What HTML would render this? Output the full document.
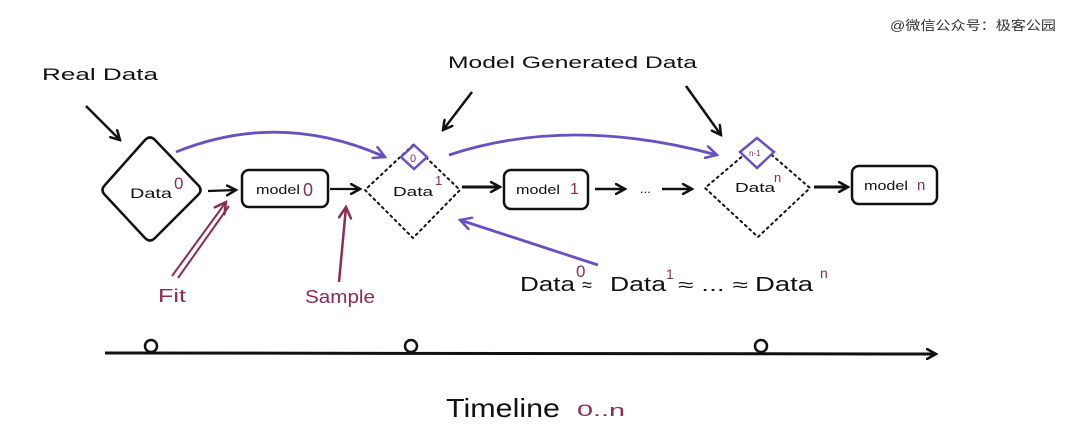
<!DOCTYPE html>
<html><head><meta charset="utf-8"><style>
html,body{margin:0;padding:0;background:#fff;width:1080px;height:435px;overflow:hidden}
svg{display:block}
text{font-family:"Liberation Sans",sans-serif}
</style></head><body>
<svg width="1080" height="435" viewBox="0 0 1080 435" xmlns="http://www.w3.org/2000/svg">
<defs>
<marker id="ab" markerWidth="12" markerHeight="12" refX="10" refY="6" orient="auto" markerUnits="userSpaceOnUse"><path d="M1,1 L10,6 L1,11" fill="none" stroke="#111" stroke-width="2.5" stroke-linecap="round"/></marker>
<marker id="ap" markerWidth="14" markerHeight="14" refX="12" refY="7" orient="auto" markerUnits="userSpaceOnUse"><path d="M1,1 L12,7 L1,13" fill="none" stroke="#6a4fc4" stroke-width="2.5" stroke-linecap="round"/></marker>
<marker id="am" markerWidth="14" markerHeight="14" refX="12" refY="7" orient="auto" markerUnits="userSpaceOnUse"><path d="M1,1 L12,7 L1,13" fill="none" stroke="#8b2c52" stroke-width="2.5" stroke-linecap="round"/></marker>
</defs>
<text x="890" y="30" font-size="13" fill="#333" textLength="166" lengthAdjust="spacingAndGlyphs" style="font-family:'Liberation Sans','Noto Sans CJK SC',sans-serif">@微信公众号：极客公园</text>

<text x="42" y="80" font-size="17" fill="#111" textLength="116" lengthAdjust="spacingAndGlyphs">Real Data</text>
<line x1="86" y1="106" x2="120" y2="140" stroke="#111" stroke-width="2.5" marker-end="url(#ab)"/>
<text x="448" y="68" font-size="17" fill="#111" textLength="249" lengthAdjust="spacingAndGlyphs">Model Generated Data</text>
<line x1="472" y1="92" x2="443" y2="130" stroke="#111" stroke-width="2.5" marker-end="url(#ab)"/>
<line x1="686" y1="86" x2="721" y2="135" stroke="#111" stroke-width="2.5" marker-end="url(#ab)"/>

<path d="M145,140 Q150,135 155,140 L198,185 Q203,190 198,195 L155,238 Q150,243 145,238 L105,195 Q100,190 105,185 Z" fill="none" stroke="#111" stroke-width="2.5"/>
<text x="130" y="198" font-size="14" fill="#111" textLength="42" lengthAdjust="spacingAndGlyphs">Data</text>
<text x="174" y="189" font-size="17" fill="#8b2c52">0</text>
<line x1="208" y1="191" x2="236" y2="190" stroke="#111" stroke-width="2.3" marker-end="url(#ab)"/>

<rect x="242" y="170" width="86" height="37" rx="7" fill="none" stroke="#111" stroke-width="2.5"/>
<text x="256" y="194" font-size="13" fill="#111" textLength="44" lengthAdjust="spacingAndGlyphs">model</text>
<text x="303" y="196" font-size="18" fill="#8b2c52">0</text>
<line x1="330" y1="189" x2="360" y2="189" stroke="#111" stroke-width="2.3" marker-end="url(#ab)"/>

<path d="M413,145 L460,190 L413,238 L365,190 Z" fill="none" stroke="#111" stroke-width="2" stroke-dasharray="2,4" stroke-linecap="round"/>
<path d="M414,145 L427,157 L414,169 L401,157 Z" fill="#fff" stroke="#6a4fc4" stroke-width="2.5"/>
<text x="410" y="162" font-size="11" fill="#8b2c52">0</text>
<text x="393" y="196" font-size="13" fill="#111" textLength="40" lengthAdjust="spacingAndGlyphs">Data</text>
<text x="435" y="185" font-size="13" fill="#8b2c52">1</text>
<line x1="462" y1="187" x2="500" y2="187" stroke="#111" stroke-width="3" marker-end="url(#ab)"/>

<rect x="504" y="170" width="84" height="39" rx="7" fill="none" stroke="#111" stroke-width="2.5"/>
<text x="516" y="194" font-size="13" fill="#111" textLength="44" lengthAdjust="spacingAndGlyphs">model</text>
<text x="570" y="194" font-size="16" fill="#8b2c52">1</text>
<line x1="595" y1="189" x2="625" y2="189" stroke="#111" stroke-width="2.5" marker-end="url(#ab)"/>
<text x="640" y="193" font-size="13" fill="#111">...</text>
<line x1="662" y1="189" x2="692" y2="189" stroke="#111" stroke-width="2.5" marker-end="url(#ab)"/>

<path d="M758,143 L810,188 L758,237 L705,188 Z" fill="none" stroke="#111" stroke-width="2" stroke-dasharray="2,4" stroke-linecap="round"/>
<path d="M757,138 L774,152 L757,168 L740,152 Z" fill="#fff" stroke="#6a4fc4" stroke-width="2.5"/>
<text x="749" y="156" font-size="8" fill="#8b2c52">n-1</text>
<text x="735" y="192" font-size="13" fill="#111" textLength="40" lengthAdjust="spacingAndGlyphs">Data</text>
<text x="774" y="182" font-size="13" fill="#8b2c52">n</text>
<line x1="814" y1="187" x2="848" y2="187" stroke="#111" stroke-width="3" marker-end="url(#ab)"/>

<rect x="852" y="166" width="85" height="38" rx="7" fill="none" stroke="#111" stroke-width="2.5"/>
<text x="864" y="190" font-size="13" fill="#111" textLength="44" lengthAdjust="spacingAndGlyphs">model</text>
<text x="917" y="190" font-size="15" fill="#8b2c52">n</text>

<path d="M176,152 Q280,110 385,157" fill="none" stroke="#6a4fc4" stroke-width="2.8" marker-end="url(#ap)"/>
<path d="M449,155 Q570,115 717,155" fill="none" stroke="#6a4fc4" stroke-width="2.8" marker-end="url(#ap)"/>
<line x1="598" y1="265" x2="460" y2="220" stroke="#6a4fc4" stroke-width="2.8" marker-end="url(#ap)"/>

<line x1="172" y1="276" x2="226" y2="202" stroke="#8b2c52" stroke-width="2" marker-end="url(#am)"/>
<line x1="178" y1="278" x2="229" y2="206" stroke="#8b2c52" stroke-width="2"/>
<text x="158" y="302" font-size="18" fill="#8b2c52" textLength="28" lengthAdjust="spacingAndGlyphs">Fit</text>
<line x1="339" y1="282" x2="346" y2="207" stroke="#8b2c52" stroke-width="2.5" marker-end="url(#am)"/>
<text x="305" y="303" font-size="18" fill="#8b2c52" textLength="70" lengthAdjust="spacingAndGlyphs">Sample</text>

<text x="520" y="291" font-size="20" fill="#111" textLength="55" lengthAdjust="spacingAndGlyphs">Data</text>
<text x="576" y="277" font-size="17" fill="#8b2c52">0</text>
<text x="582" y="291" font-size="18" fill="#111">≈</text>
<text x="610" y="291" font-size="20" fill="#111" textLength="56" lengthAdjust="spacingAndGlyphs">Data</text>
<text x="666" y="279" font-size="14" fill="#8b2c52">1</text>
<text x="678" y="291" font-size="18" fill="#111" textLength="70" lengthAdjust="spacingAndGlyphs">≈ ... ≈</text>
<text x="755" y="291" font-size="20" fill="#111" textLength="58" lengthAdjust="spacingAndGlyphs">Data</text>
<text x="820" y="278" font-size="14" fill="#8b2c52">n</text>

<line x1="105" y1="353" x2="936" y2="354" stroke="#111" stroke-width="3" marker-end="url(#ab)"/>
<circle cx="151" cy="346" r="6" fill="#fff" stroke="#111" stroke-width="2.5"/>
<circle cx="411" cy="346" r="6" fill="#fff" stroke="#111" stroke-width="2.5"/>
<circle cx="761" cy="346" r="6" fill="#fff" stroke="#111" stroke-width="2.5"/>
<text x="446" y="417" font-size="26" fill="#111" textLength="114" lengthAdjust="spacingAndGlyphs">Timeline</text>
<text x="577" y="416" font-size="17" fill="#8b2c52" textLength="48" lengthAdjust="spacingAndGlyphs">0..n</text>
</svg>
</body></html>
